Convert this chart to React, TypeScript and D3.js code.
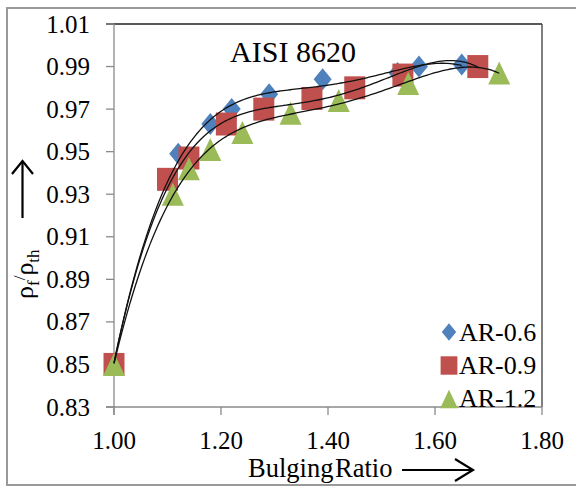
import React from 'react';
import * as d3 from 'd3';

// AR-0.6 (blue diamonds)
const xAR06 = [1.0, 1.12, 1.18, 1.22, 1.29, 1.39, 1.53, 1.57, 1.65];
const yAR06 = [0.85, 0.949, 0.963, 0.97, 0.977, 0.984, 0.987, 0.99, 0.991];
// AR-0.9 (red squares)
const xAR09 = [1.0, 1.1, 1.14, 1.21, 1.28, 1.37, 1.45, 1.54, 1.68];
const yAR09 = [0.85, 0.937, 0.947, 0.963, 0.97, 0.975, 0.98, 0.986, 0.99];
// AR-1.2 (green triangles)
const xAR12 = [1.0, 1.11, 1.14, 1.18, 1.24, 1.33, 1.42, 1.55, 1.72];
const yAR12 = [0.85, 0.93, 0.942, 0.951, 0.959, 0.968, 0.974, 0.982, 0.987];

const seriesNames = ['AR-0.6', 'AR-0.9', 'AR-1.2'];
const xTicks = [1.0, 1.2, 1.4, 1.6, 1.8];
const yTicks = [0.83, 0.85, 0.87, 0.89, 0.91, 0.93, 0.95, 0.97, 0.99, 1.01];

const FONT = 'Liberation Serif';

// least squares polynomial trendline (like Excel's poly trendline)
function polyfit(xs: number[], ys: number[], deg: number) {
  const c = 1.35, s = 0.4;
  const n = deg + 1;
  const A: number[][] = Array.from({ length: n }, () => new Array(n + 1).fill(0));
  xs.forEach((x, k) => {
    const t = (x - c) / s;
    for (let i = 0; i < n; i++) {
      for (let j = 0; j < n; j++) A[i][j] += Math.pow(t, i + j);
      A[i][n] += ys[k] * Math.pow(t, i);
    }
  });
  for (let i = 0; i < n; i++) {
    let p = i;
    for (let r = i + 1; r < n; r++) if (Math.abs(A[r][i]) > Math.abs(A[p][i])) p = r;
    [A[i], A[p]] = [A[p], A[i]];
    for (let r = 0; r < n; r++) {
      if (r === i) continue;
      const f = A[r][i] / A[i][i];
      for (let j = i; j <= n; j++) A[r][j] -= f * A[i][j];
    }
  }
  const coef = A.map((row, i) => row[n] / row[i]);
  return (x: number) => {
    const t = (x - c) / s;
    return coef.reduce((acc, a, i) => acc + a * Math.pow(t, i), 0);
  };
}

const App = () => {
  const width = 576;
  const height = 487;
  const left = 114, right = 542, top = 24, bottom = 407;

  const x = d3.scaleLinear().domain([1.0, 1.8]).range([left, right]);
  const y = d3.scaleLinear().domain([0.83, 1.01]).range([bottom, top]);

  const series = [
    { name: seriesNames[0], xs: xAR06, ys: yAR06, color: '#4F81BD', shape: 'diamond' },
    { name: seriesNames[1], xs: xAR09, ys: yAR09, color: '#C0504D', shape: 'square' },
    { name: seriesNames[2], xs: xAR12, ys: yAR12, color: '#9BBB59', shape: 'triangle' },
  ];

  const marker = (shape: string, cx: number, cy: number, color: string, key: string, sc = 1) => {
    if (shape === 'diamond') {
      const w = 9 * sc, h = 11 * sc;
      return <path key={key} d={`M${cx},${cy - h}L${cx + w},${cy}L${cx},${cy + h}L${cx - w},${cy}Z`} fill={color} />;
    }
    if (shape === 'square') {
      const w = 10.5 * sc, h = 11.5 * sc;
      return <rect key={key} x={cx - w} y={cy - h} width={2 * w} height={2 * h} fill={color} />;
    }
    const w = 11 * sc, h = 11.5 * sc;
    return <path key={key} d={`M${cx},${cy - h}L${cx + w},${cy + h}L${cx - w},${cy + h}Z`} fill={color} />;
  };

  const line = d3.line<[number, number]>().x((d) => x(d[0])).y((d) => y(d[1]));

  return (
    <svg width={width} height={height} style={{ position: 'absolute', left: 0, top: 0, background: '#fff' }}>
      {/* outer chart border */}
      <rect x={7} y={8} width={600} height={477} fill="none" stroke="#9a9a9a" strokeWidth={2} />

      {/* plot area border */}
      <line x1={106} x2={right} y1={top} y2={top} stroke="#222" strokeWidth={1.5} />
      <line x1={right} x2={right} y1={top} y2={bottom} stroke="#555" strokeWidth={1.5} />

      {/* y axis */}
      <line x1={left} x2={left} y1={top} y2={bottom + 8} stroke="#8a8a8a" strokeWidth={1.3} />
      {yTicks.map((t) => (
        <g key={t}>
          <line x1={106} x2={left} y1={y(t)} y2={y(t)} stroke="#8a8a8a" strokeWidth={1.3} />
          <text x={90} y={y(t) + 8.5} textAnchor="end" fontFamily={FONT} fontSize={25} fill="#000">
            {t.toFixed(2)}
          </text>
        </g>
      ))}

      {/* x axis */}
      <line x1={106} x2={right} y1={bottom} y2={bottom} stroke="#8a8a8a" strokeWidth={1.3} />
      {xTicks.map((t) => (
        <g key={t}>
          <line x1={x(t)} x2={x(t)} y1={bottom} y2={bottom + 8} stroke="#8a8a8a" strokeWidth={1.3} />
          <text x={x(t)} y={449} textAnchor="middle" fontFamily={FONT} fontSize={25} fill="#000">
            {t.toFixed(2)}
          </text>
        </g>
      ))}

      {/* markers */}
      {series.map((s) => (
        <g key={s.name}>
          {s.xs.map((xv, i) => marker(s.shape, x(xv), y(s.ys[i]), s.color, `${s.name}-${i}`))}
        </g>
      ))}

      {/* trendlines */}
      {series.map((s) => {
        const f = polyfit(s.xs, s.ys, 4);
        const x0 = d3.min(s.xs)!, x1 = d3.max(s.xs)!;
        const pts: [number, number][] = d3.range(0, 151).map((i) => {
          const xv = x0 + ((x1 - x0) * i) / 150;
          return [xv, f(xv)];
        });
        return <path key={`tl-${s.name}`} d={line(pts)!} fill="none" stroke="#111" strokeWidth={1.3} />;
      })}

      {/* title */}
      <text x={293} y={62} textAnchor="middle" fontFamily={FONT} fontSize={30} fill="#000">
        AISI 8620
      </text>

      {/* legend */}
      {series.map((s, i) => (
        <g key={`lg-${s.name}`}>
          {marker(s.shape, 449, 332 + i * 33.5, s.color, `lgm-${i}`, 0.8)}
          <text x={459} y={341 + i * 33} fontFamily={FONT} fontSize={26} fill="#000">
            {s.name}
          </text>
        </g>
      ))}

      {/* x axis title with arrow */}
      <text x={248} y={477} fontFamily={FONT} fontSize={26.5} wordSpacing={-5} fill="#000">
        Bulging Ratio
      </text>
      <line x1={402} x2={472} y1={470} y2={470} stroke="#000" strokeWidth={2.2} />
      <path d="M455,459L473,470L455,481" fill="none" stroke="#000" strokeWidth={2.2} />

      {/* y axis title with arrow */}
      <text transform="translate(33,299) rotate(-90)" fontFamily={FONT} fontSize={26} fill="#000">
        ρ
        <tspan fontSize={17} dy={6}>f</tspan>
        <tspan fontSize={17} dy={-14}>/</tspan>
        <tspan dy={8}>ρ</tspan>
        <tspan fontSize={17} dy={6}>th</tspan>
      </text>
      <line x1={22.5} x2={22.5} y1={218} y2={161} stroke="#000" strokeWidth={2.2} />
      <path d="M12,174L22.5,161L33,174" fill="none" stroke="#000" strokeWidth={2.2} />
    </svg>
  );
};

export default App;
